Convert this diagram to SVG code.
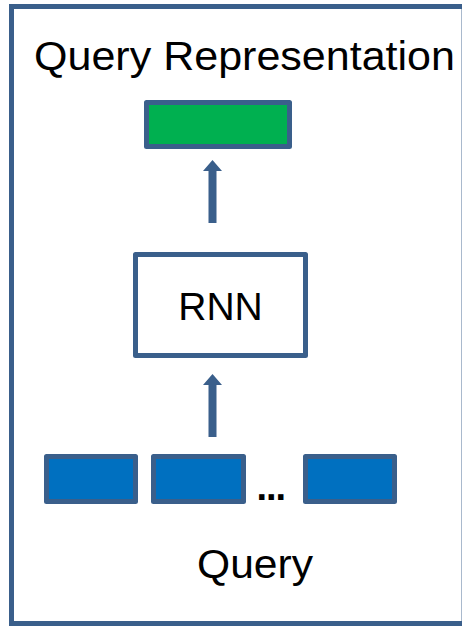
<svg xmlns="http://www.w3.org/2000/svg" width="462" height="626" viewBox="0 0 462 626">
<style>
.lbl{font-family:"Liberation Sans",Arial,sans-serif;fill:#000;}
.box{stroke:#3A5F8B;stroke-width:5;stroke-linejoin:round;}
.arrow{fill:#3A5F8B;}
</style>
<rect x="0" y="0" width="462" height="626" fill="#fff"/>
<g id="frame">
<path d="M463,6.5 H11.5 V623.5 H463" fill="none" stroke="#3A5F8B" stroke-width="5"/>
<line x1="461.5" y1="9" x2="461.5" y2="621" stroke="#A9B9CD" stroke-width="1"/>
</g>
<g id="title">
<text class="lbl" x="34" y="70" font-size="41" textLength="421" lengthAdjust="spacingAndGlyphs">Query Representation</text>
</g>
<g id="query-representation">
<rect class="box" x="146.5" y="102.5" width="143" height="44" fill="#00B050"/>
</g>
<g id="rnn">
<rect class="box" x="135.5" y="254.5" width="170" height="101" fill="#fff"/>
<text class="lbl" x="220.5" y="320" font-size="39" text-anchor="middle">RNN</text>
</g>
<g id="query-tokens">
<rect class="box" x="46.5" y="456.5" width="89" height="45" fill="#0070C0"/>
<rect class="box" x="153.5" y="456.5" width="90" height="45" fill="#0070C0"/>
<text class="lbl" x="256.5" y="500" font-size="38" font-weight="bold" letter-spacing="-1">...</text>
<rect class="box" x="305.5" y="456.5" width="89" height="45" fill="#0070C0"/>
</g>
<g id="query-label">
<text class="lbl" x="197" y="578" font-size="41" textLength="116" lengthAdjust="spacingAndGlyphs">Query</text>
</g>
<g id="connectors">
<polygon class="arrow" points="212.5,160 222,171 216.5,171 216.5,223 208.5,223 208.5,171 203,171"/>
<polygon class="arrow" points="212.5,374 222,385 216.5,385 216.5,437 208.5,437 208.5,385 203,385"/>
</g>
</svg>
